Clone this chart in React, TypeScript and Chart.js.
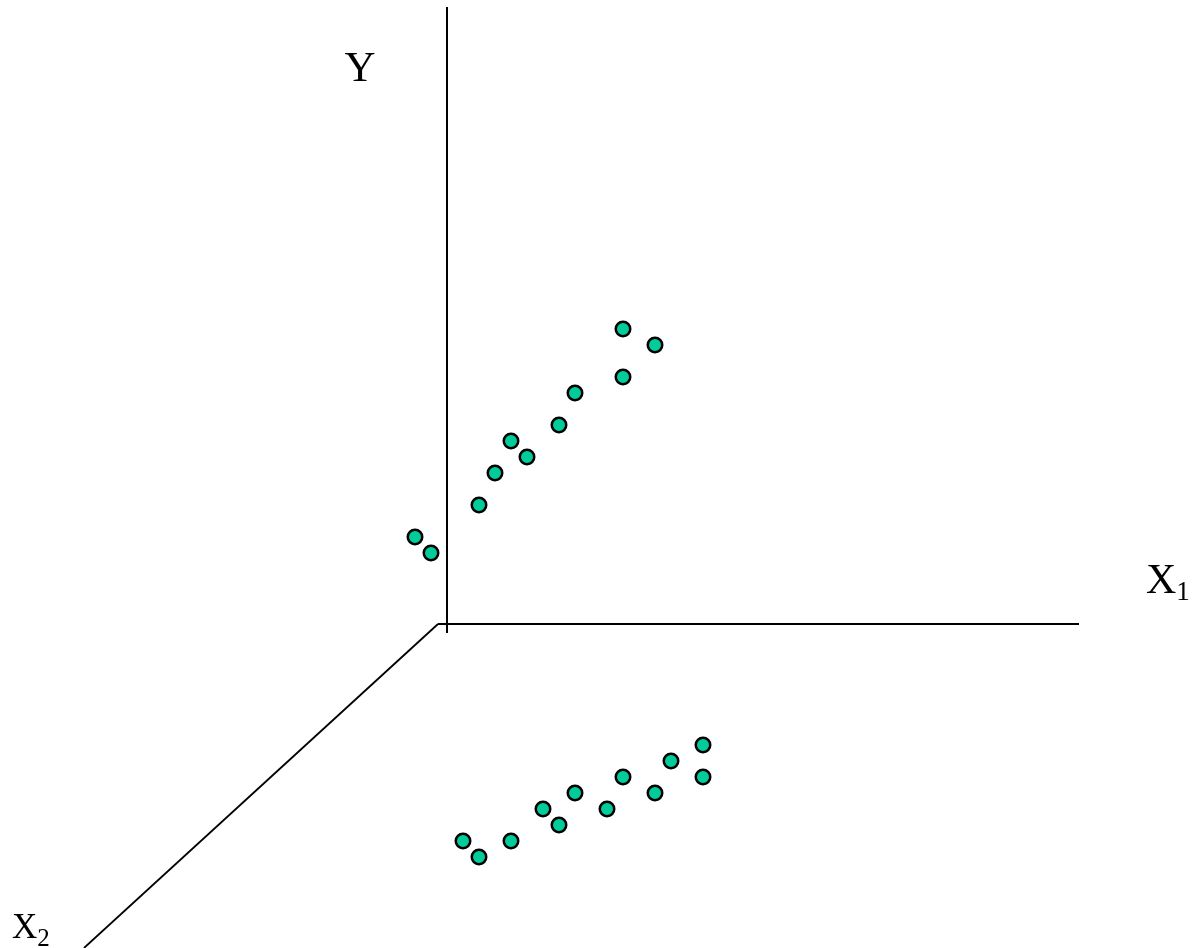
import React, { useEffect, useRef } from "react";
import { Chart, registerables } from "chart.js";

Chart.register(...registerables);

// Coordinates in the diagram's own units: origin where the axes meet.
const upperX1 = [176, 208, 176, 128, 112, 64, 80, 48, 32, -32, -16];
const upperY = [295, 279, 247, 231, 199, 183, 167, 151, 119, 87, 71];

const lowerX1 = [16, 32, 64, 96, 112, 128, 160, 176, 208, 224, 256, 256];
const lowerY = [-217, -233, -217, -185, -201, -169, -185, -153, -169, -137, -121, -153];

const axisYLineX = [0, 0];
const axisYLineY = [-9, 617];
const axisX1LineX = [-9, 632];
const axisX1LineY = [0, 0];
const axisX2LineX = [-9, -363];
const axisX2LineY = [0, -324];

const axisLabels = ["Y", "X", "X"];
const axisSubs = ["", "1", "2"];
const labelX = [-102.5, 699, -435];
const labelY = [543.3, 31.3, -314];

const W = 1197;
const H = 948;

const toPts = (xs: number[], ys: number[]) => xs.map((x, i) => ({ x, y: ys[i] }));

const labelPlugin = {
  id: "axisLabels",
  afterDraw(chart: any) {
    const ctx = chart.ctx;
    const xs = chart.scales.x;
    const ys = chart.scales.y;
    const sizes = [43, 42, 35];
    const subSizes = [0, 27, 25];
    const subOff = [0, 7.3, 8];
    ctx.save();
    ctx.fillStyle = "#000";
    ctx.textAlign = "left";
    ctx.textBaseline = "alphabetic";
    axisLabels.forEach((t, i) => {
      const px = xs.getPixelForValue(labelX[i]);
      const py = ys.getPixelForValue(labelY[i]);
      ctx.font = `${sizes[i]}px "Liberation Serif", "Times New Roman", serif`;
      ctx.fillText(t, px, py);
      const w = ctx.measureText(t).width;
      if (axisSubs[i]) {
        ctx.font = `${subSizes[i]}px "Liberation Serif", "Times New Roman", serif`;
        ctx.fillText(axisSubs[i], px + w, py + subOff[i]);
      }
    });
    ctx.restore();
  },
};

export default function App() {
  const ref = useRef<HTMLCanvasElement | null>(null);
  useEffect(() => {
    document.body.style.margin = "0";
    document.body.style.overflow = "hidden";
    const canvas = ref.current;
    if (!canvas) return;
    const pointStyle = {
      backgroundColor: "#00CC99",
      borderColor: "#000000",
      borderWidth: 2.5,
      pointRadius: 7.25,
      pointBackgroundColor: "#00CC99",
      pointBorderColor: "#000000",
      pointBorderWidth: 2.5,
      showLine: false,
    };
    const lineStyle = {
      borderColor: "#000000",
      borderWidth: 2,
      pointRadius: 0,
      showLine: true,
      fill: false,
      borderCapStyle: "butt" as const,
    };
    const chart = new Chart(canvas, {
      type: "scatter",
      data: {
        datasets: [
          { label: "upper", data: toPts(upperX1, upperY), ...pointStyle },
          { label: "lower", data: toPts(lowerX1, lowerY), ...pointStyle },
          { label: "Y axis", data: toPts(axisYLineX, axisYLineY), ...lineStyle },
          { label: "X1 axis", data: toPts(axisX1LineX, axisX1LineY), ...lineStyle },
          { label: "X2 axis", data: toPts(axisX2LineX, axisX2LineY), ...lineStyle, borderWidth: 1.8 },
        ],
      },
      options: {
        responsive: false,
        animation: false,
        devicePixelRatio: 1,
        layout: { padding: 0, autoPadding: false },
        clip: false as any,
        events: [],
        plugins: {
          legend: { display: false },
          tooltip: { enabled: false },
        },
        scales: {
          x: { type: "linear", min: -447, max: 750, display: false },
          y: { type: "linear", min: -324, max: 624, display: false },
        },
      },
      plugins: [labelPlugin],
    });
    return () => chart.destroy();
  }, []);
  return (
    <div style={{ width: W, height: H, background: "#fff" }}>
      <canvas ref={ref} width={W} height={H} style={{ display: "block" }} />
    </div>
  );
}
